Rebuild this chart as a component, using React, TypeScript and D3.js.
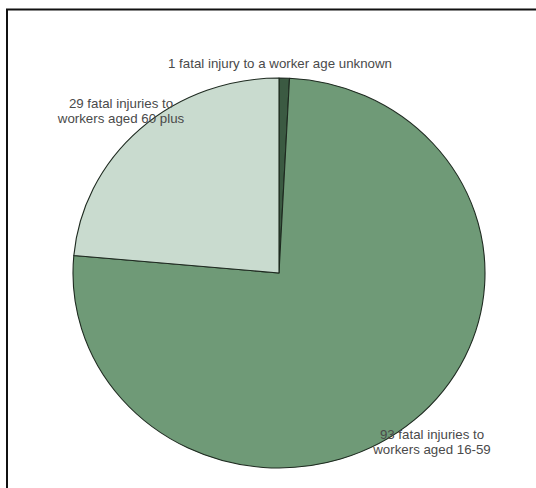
import React from "react";
import * as d3 from "d3";

const categories = [
  "1 fatal injury to a worker age unknown",
  "93 fatal injuries to workers aged 16-59",
  "29 fatal injuries to workers aged 60 plus",
];
const values = [1, 93, 29];
const colors = ["#3b5a42", "#6f9a77", "#c9dbcf"];
const labelLines = [
  ["1 fatal injury to a worker age unknown"],
  ["93 fatal injuries to", "workers aged 16-59"],
  ["29 fatal injuries to", "workers aged 60 plus"],
];
const labelPos = [
  [280, 68],
  [432, 439],
  [121, 108],
];

export default function App() {
  const W = 536;
  const H = 488;
  const cx = 279;
  const cy = 273;
  const rx = 206;
  const ry = 195;
  const pie = d3
    .pie<number>()
    .sort(null)
    .value((d) => d)
    .startAngle(0)
    .endAngle(2 * Math.PI);
  const arcs = pie(values);
  const arc = d3.arc<d3.PieArcDatum<number>>().innerRadius(0).outerRadius(rx);

  return (
    <svg
      width={W}
      height={H}
      style={{ position: "absolute", left: 0, top: 0, background: "#fff" }}
    >
      <rect x={7} y={9.5} width={600} height={600} fill="#fff" stroke="#111" strokeWidth={2} />
      <g transform={`translate(${cx},${cy}) scale(1,${ry / rx})`}>
        {arcs.map((a, i) => (
          <path
            key={categories[i]}
            d={arc(a) || ""}
            fill={colors[i]}
            stroke="#1e2a20"
            strokeWidth={1.1}
            strokeLinejoin="round"
          />
        ))}
      </g>
      {labelLines.map((lines, i) => (
        <text
          key={i}
          x={labelPos[i][0]}
          y={labelPos[i][1]}
          textAnchor="middle"
          fontFamily="Liberation Sans, Arial, sans-serif"
          fontSize={13.3}
          fill="#4a4a4a"
        >
          {lines.map((l, j) => (
            <tspan key={j} x={labelPos[i][0]} dy={j === 0 ? 0 : 15}>
              {l}
            </tspan>
          ))}
        </text>
      ))}
    </svg>
  );
}
